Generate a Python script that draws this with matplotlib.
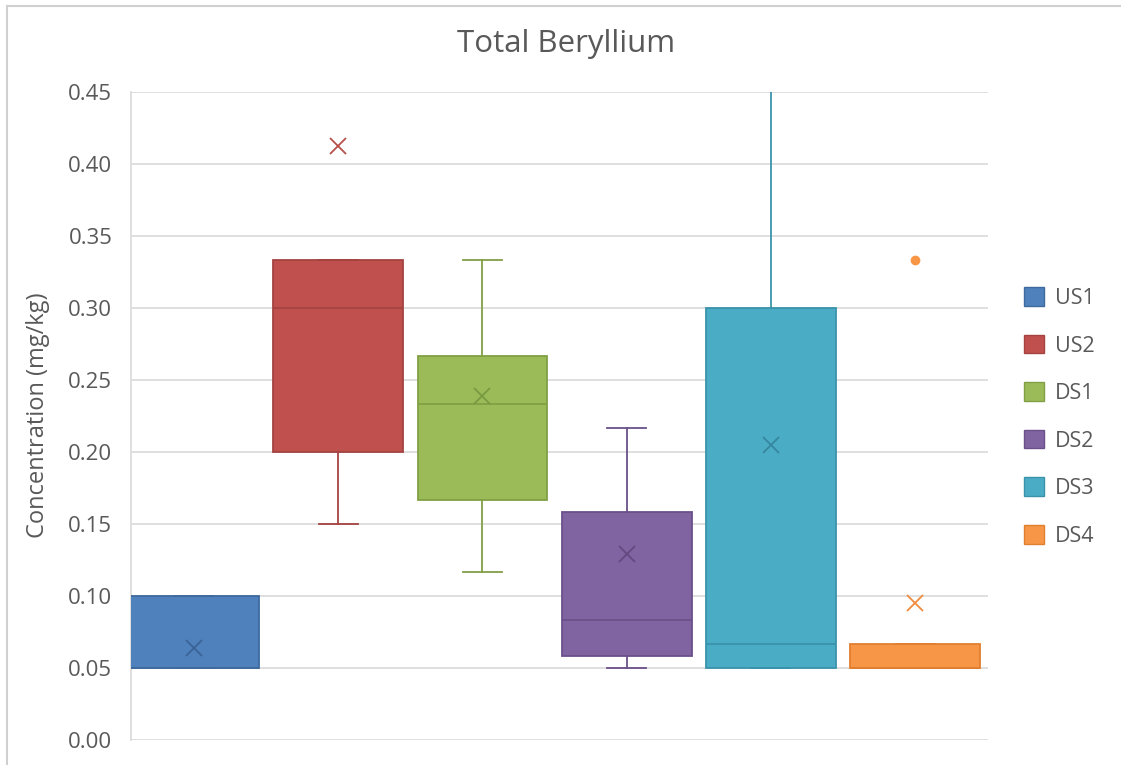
import matplotlib
matplotlib.use("Agg")
import matplotlib.pyplot as plt
from matplotlib.patches import Patch
from matplotlib.lines import Line2D

plt.rcParams['font.family'] = ['Open Sans', 'DejaVu Sans']

# ---- data ----
series = ['US1', 'US2', 'DS1', 'DS2', 'DS3', 'DS4']
whisker_low = [0.05, 0.15, 0.117, 0.05, 0.05, 0.05]
q1 = [0.05, 0.20, 0.167, 0.058, 0.05, 0.05]
median = [0.05, 0.30, 0.233, 0.083, 0.067, 0.05]
q3 = [0.10, 0.333, 0.267, 0.158, 0.30, 0.067]
whisker_high = [0.10, 0.333, 0.333, 0.217, 0.60, 0.067]
means = [0.064, 0.4125, 0.239, 0.129, 0.205, 0.095]
outliers = [[], [], [], [], [], [0.333]]

fill_colors = ['#4F81BD', '#C0504D', '#9BBB59', '#8064A2', '#4BACC6', '#F79646']
edge_colors = ['#3E6A9E', '#A44340', '#81A045', '#6A5089', '#3A93AB', '#E07F30']
mean_colors = ['#3A6396', '#B84F4C', '#7A9A42', '#63497F', '#35879E', '#F08A3E']

text_color = '#595959'
grid_color = '#D9D9D9'

fig = plt.figure(figsize=(11.21, 7.65), dpi=100)
ax = fig.add_axes([131 / 1121, 25 / 765, (988 - 131) / 1121, (740 - 92) / 765])

stats = []
for i, name in enumerate(series):
    stats.append(dict(label=name, whislo=whisker_low[i], q1=q1[i], med=median[i],
                      q3=q3[i], whishi=whisker_high[i], mean=means[i],
                      fliers=outliers[i]))

positions = list(range(len(series)))
for i in positions:
    ax.bxp([stats[i]], positions=[i], widths=0.9, patch_artist=True,
           showmeans=True, showfliers=True,
           boxprops=dict(facecolor=fill_colors[i], edgecolor=edge_colors[i], linewidth=1.3),
           medianprops=dict(color=edge_colors[i], linewidth=1.3),
           whiskerprops=dict(color=edge_colors[i], linewidth=1.3),
           capprops=dict(color=edge_colors[i], linewidth=1.3),
           capwidths=0.27,
           meanprops=dict(marker='x', markeredgecolor=mean_colors[i], markersize=11,
                          markeredgewidth=1.3),
           flierprops=dict(marker='o', markerfacecolor=fill_colors[i],
                           markeredgecolor=fill_colors[i], markersize=6),
           zorder=3)

ax.set_xlim(-0.437, 5.506)
ax.set_ylim(0, 0.45)
ax.set_yticks([i * 0.05 for i in range(10)])
ax.set_yticklabels([f'{i * 0.05:.2f}' for i in range(10)])
ax.set_xticks([])
ax.yaxis.grid(True, color=grid_color, linewidth=1.2, zorder=0)
ax.set_axisbelow(True)
for s in ['top', 'right', 'bottom']:
    ax.spines[s].set_visible(False)
ax.spines['left'].set_color(grid_color)
ax.spines['left'].set_linewidth(1.2)
ax.tick_params(axis='y', length=0, pad=13.5, labelsize=16, labelcolor=text_color)

fig.text(38 / 1121, 1 - 415 / 765, 'Concentration (mg/kg)', rotation=90,
         ha='center', va='center', fontsize=17, color=text_color)
fig.text(566 / 1121, 1 - 44 / 765, 'Total Beryllium', ha='center', va='center',
         fontsize=22.5, color=text_color)

handles = [Patch(facecolor=fill_colors[i], edgecolor=edge_colors[i], label=series[i])
           for i in positions]
fig.legend(handles=handles, loc='center left', bbox_to_anchor=(1024 / 1121, 1 - 417 / 765),
           bbox_transform=fig.transFigure, frameon=False, fontsize=15.5,
           handlelength=0.95, handleheight=0.95, labelspacing=1.2, handletextpad=0.5,
           borderpad=0, borderaxespad=0, labelcolor=text_color)

# chart area border (top and left edges visible in the reference)
fig.add_artist(Line2D([7 / 1121, 1], [1 - 6 / 765, 1 - 6 / 765], transform=fig.transFigure,
                      color='#D0D0D0', linewidth=1.5))
fig.add_artist(Line2D([7 / 1121, 7 / 1121], [0, 1 - 6 / 765], transform=fig.transFigure,
                      color='#D0D0D0', linewidth=1.5))

fig.savefig('out.png', dpi=100)
